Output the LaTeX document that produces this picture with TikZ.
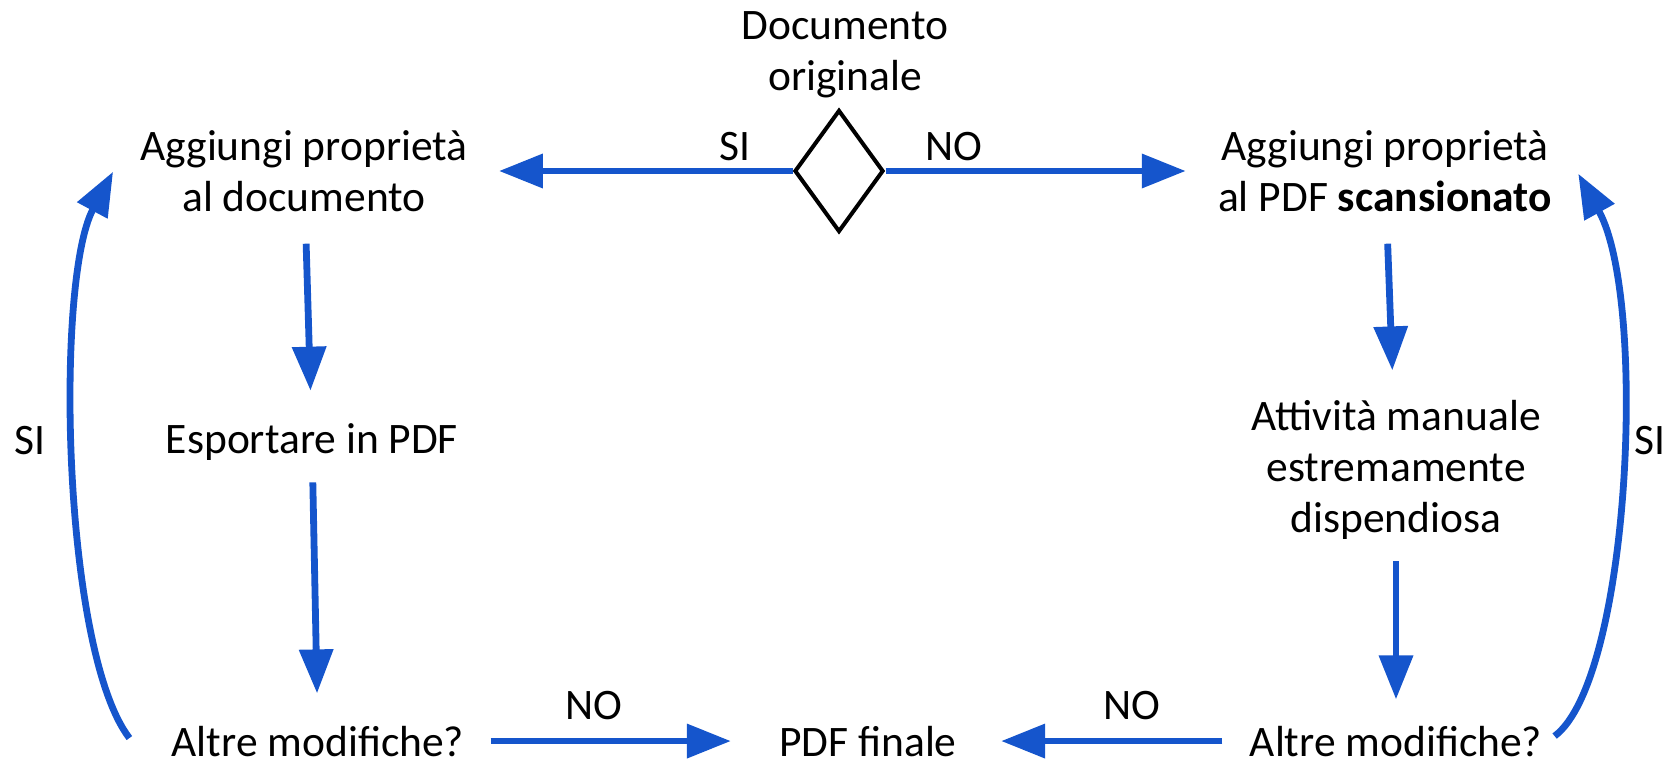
\documentclass[tikz,border=0pt]{standalone}
\usepackage{fontspec}
\setmainfont{Carlito}
\usepackage{xcolor}
\usepackage{tikz}
\usetikzlibrary{arrows.meta, shapes.geometric}

\definecolor{flowblue}{HTML}{1555CC}

\begin{document}
\begin{tikzpicture}[x=0.5pt, y=-0.5pt, >={Triangle[length=22pt, width=16.5pt]},
    txt/.style={inner sep=0pt, align=center, font=\fontsize{21.75}{25.5}\selectfont},
    flow/.style={->, draw=flowblue, line width=3.4pt}]
    \useasboundingbox (0,0) rectangle (1671,765);

    \node[txt, anchor=base] (orig) at (845,91) {Documento\\originale};
    \node[diamond, draw, line width=2pt, minimum width=44.5pt, minimum height=61pt, inner sep=0pt] (choice) at (839,171) {};

    \node[txt, anchor=base] (propdoc) at (304,212) {Aggiungi proprietà\\al documento};
    \node[txt, anchor=base] (export) at (312,453) {Esportare in PDF};
    \node[txt, anchor=base] (morel) at (318,756) {Altre modifiche?};

    \node[txt, anchor=base] (propscan) at (1385,212) {Aggiungi proprietà\\al PDF \textbf{scansionato}};
    \node[txt, anchor=base] (manual) at (1396,532) {Attività manuale\\estremamente\\dispendiosa};
    \node[txt, anchor=base] (morer) at (1396,756) {Altre modifiche?};

    \node[txt, anchor=base] (final) at (868,756) {PDF finale};

    \node[txt, anchor=base] (si1) at (735,161) {SI};
    \node[txt, anchor=base] (no1) at (954,161) {NO};
    \node[txt, anchor=base] (no2) at (594,719) {NO};
    \node[txt, anchor=base] (no3) at (1132,719) {NO};
    \node[txt, anchor=base] (si2) at (30,454) {SI};
    \node[txt, anchor=base] (si3) at (1650,454) {SI};

    \draw[flow, shorten >=15.5pt] (choice.west) -- (choice.west -| propdoc.east);
    \draw[flow, shorten >=16pt] (choice.east) -- (choice.east -| propscan.west);

    \draw[flow, shorten <=15.5pt, shorten >=16pt] (propdoc) -- (export);
    \draw[flow, shorten <=11pt, shorten >=16pt] (export) -- (morel);
    \draw[flow, shorten <=13pt, shorten >=24pt] (morel) -- (final);

    \draw[flow, shorten <=15.5pt, shorten >=14.5pt] (propscan) -- (manual);
    \draw[flow, shorten <=11pt, shorten >=13pt] (manual) -- (morer);
    \draw[flow, shorten <=13.5pt, shorten >=22pt] (morer) -- (final);

    \draw[flow] ([shift={(-42,-3)}]morel.west) .. controls (62,650) and (55,280) .. ([shift={(-27,0)}]propdoc.west);
    \draw[flow] ([shift={(12,-5)}]morer.east) .. controls (1630,680) and (1648,300) .. ([shift={(26,2)}]propscan.east);
\end{tikzpicture}
\end{document}
